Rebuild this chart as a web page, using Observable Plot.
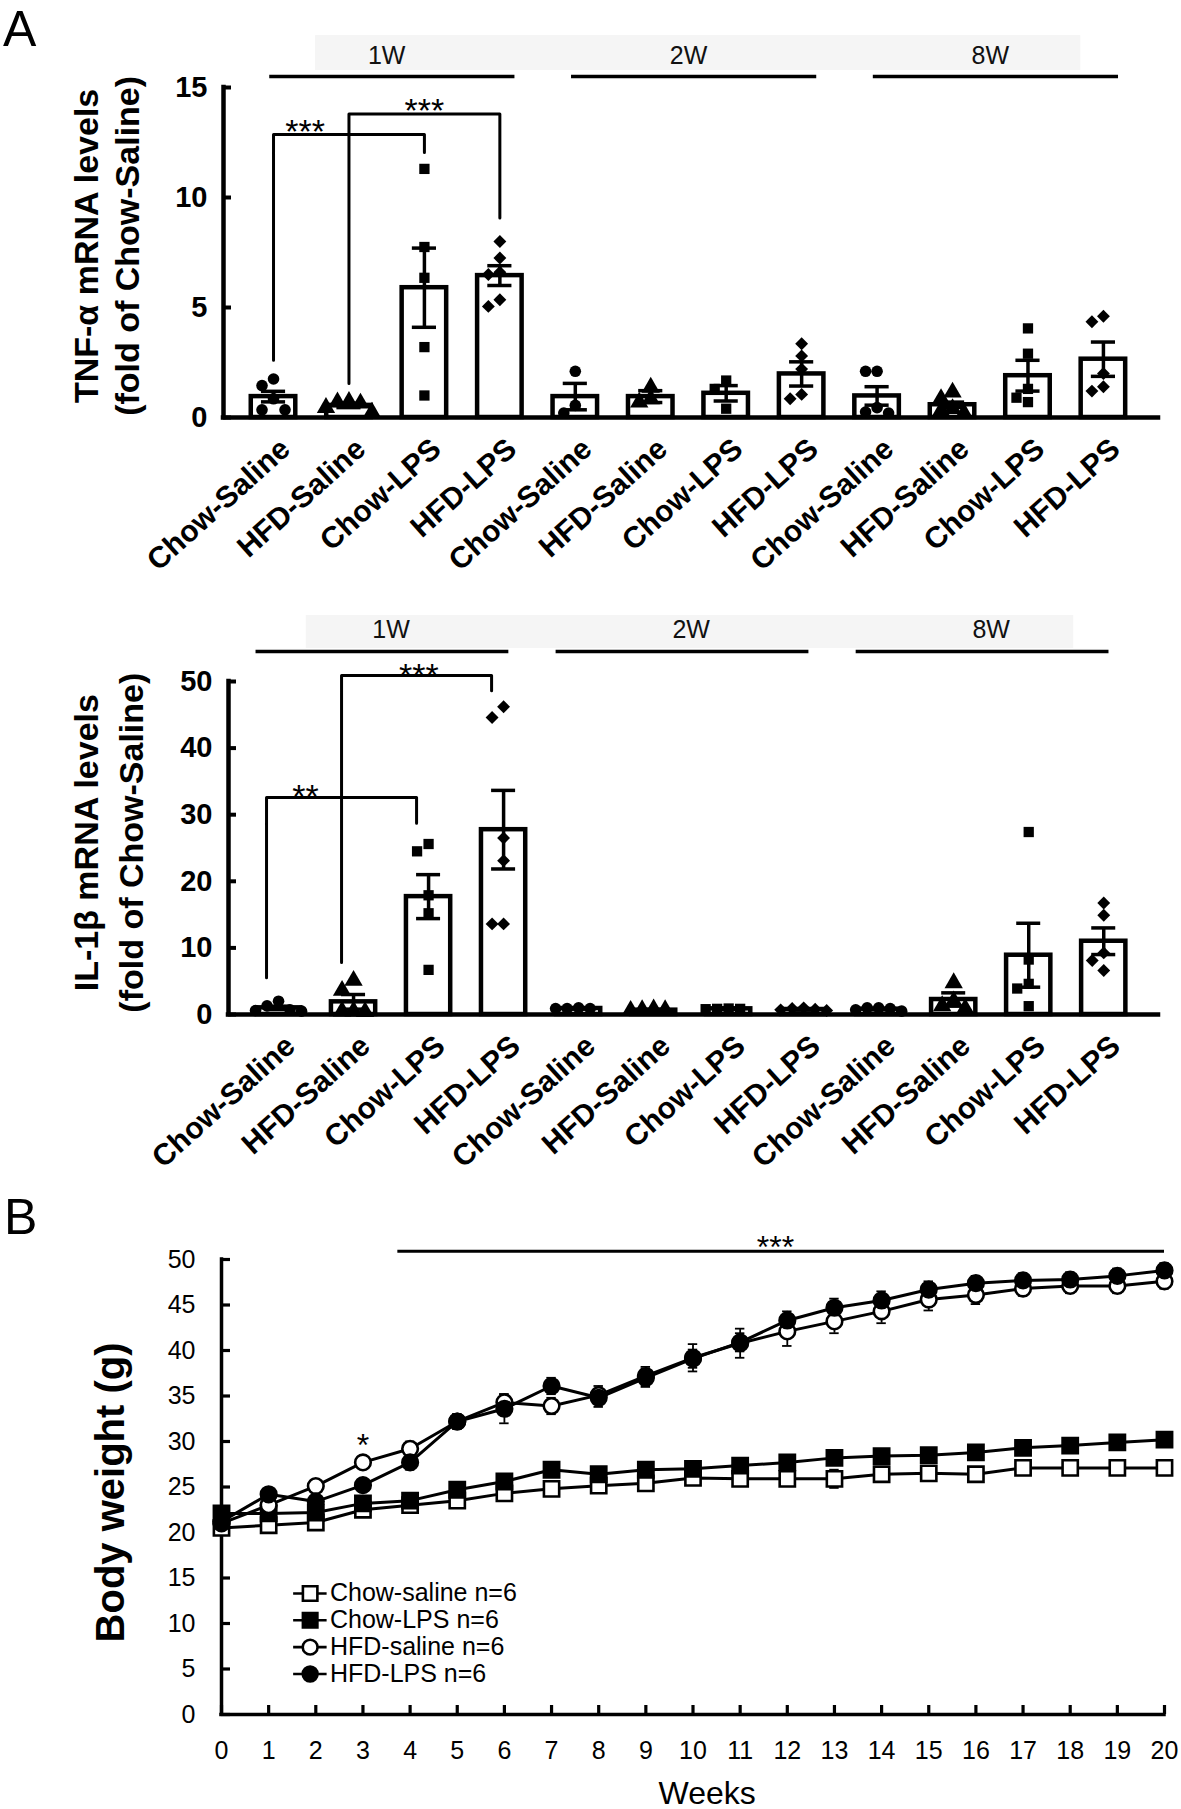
<!DOCTYPE html>
<html><head><meta charset="utf-8">
<script src="https://cdn.jsdelivr.net/npm/d3@7"></script>
<script src="https://cdn.jsdelivr.net/npm/@observablehq/plot@0.6"></script>
<style>
html,body{margin:0;background:#fff;}
#fig{position:relative;width:1181px;height:1809px;overflow:hidden;font-family:"Liberation Sans",Arial,sans-serif;background:#fff;}
.panel{position:absolute;left:0;}
.lab{position:absolute;font-size:50px;line-height:1.1;font-family:"Liberation Sans",Arial,sans-serif;}
</style></head><body>
<div id="fig">
  <div class="lab" style="left:3px;top:2px">A</div>
  <div class="lab" style="left:4px;top:1190px">B</div>
</div>
<script>
// ---------------- DATA ----------------
const groupNames = ["Chow-Saline", "HFD-Saline", "Chow-LPS", "HFD-LPS"];
const timePoints = ["1W", "2W", "8W"];
const categories = timePoints.flatMap(() => groupNames);
const groupSymbols = ["circle", "triangle", "square", "diamond2"];

// TNF-alpha (fold of Chow-Saline)
const tnfMean = [0.95, 0.55, 5.9, 6.45, 0.95, 0.95, 1.1, 1.98, 0.98, 0.58, 1.9, 2.65];
const tnfSem  = [0.24, 0.10, 1.8, 0.45, 0.6, 0.27, 0.35, 0.55, 0.42, 0.12, 0.7, 0.78];
const tnfPoints = [
  [1.75, 1.45, 0.85, 0.35, 0.35],
  [0.7, 0.72, 0.65, 0.45, 0.23],
  [11.3, 7.75, 6.35, 3.2, 1.0],
  [8.0, 7.25, 6.6, 6.5, 5.05, 5.35],
  [2.1, 0.55, 0.2],
  [1.37, 0.84, 0.69],
  [1.68, 1.3, 0.4],
  [3.35, 2.8, 2.2, 1.05, 0.85],
  [2.1, 2.1, 0.45, 0.2, 0.25],
  [1.15, 0.85, 0.4, 0.3, 0.2],
  [4.05, 2.9, 1.3, 0.9, 0.7],
  [4.6, 4.35, 2.0, 1.4, 1.2]
];
const tnfTicks = [0, 5, 10, 15];
const tnfBrackets = [
  {from: 0, to: 2, yFrom: 2.6, yTop: 12.86, yTo: 12.05, labelX: 0.42, label: "***"},
  {from: 1, to: 3, yFrom: 1.55, yTop: 13.8, yTo: 9.07, labelX: 2.0, label: "***"}
];

// IL-1beta (fold of Chow-Saline)
const ilMean = [1.0, 1.9, 17.7, 27.75, 0.9, 0.65, 0.85, 0.75, 0.8, 2.25, 8.9, 11.0];
const ilSem  = [0.25, 1.1, 3.3, 5.9, 0.1, 0.1, 0.1, 0.1, 0.1, 1.0, 4.8, 2.0];
const ilPoints = [
  [2.0, 1.3, 0.7, 0.6, 0.5],
  [5.1, 3.6, 0.5, 0.4, 0.5],
  [25.6, 24.5, 17.9, 15.2, 6.7],
  [46.2, 44.6, 26.5, 23.1, 13.6, 13.6],
  [1.0, 0.9, 0.9, 0.9],
  [0.8, 0.7, 0.7, 0.6],
  [0.9, 0.85, 0.8, 0.85],
  [1.0, 0.9, 0.8, 0.7, 0.6],
  [1.0, 1.0, 0.9, 0.7, 0.5],
  [4.75, 2.0, 1.3, 0.9],
  [27.4, 8.25, 4.6, 3.9, 1.25],
  [16.75, 14.9, 9.25, 8.1, 6.6]
];
const ilTicks = [0, 10, 20, 30, 40, 50];
const ilBrackets = [
  {from: 0, to: 2, yFrom: 5.5, yTop: 32.6, yTo: 28.7, labelX: 0.36, label: "**"},
  {from: 1, to: 3, yFrom: 7.8, yTop: 50.9, yTo: 48.6, labelX: 1.87, label: "***"}
];

// Body weight (g)
const weeks = d3.range(0, 21);
const seriesNames = ["Chow-saline", "Chow-LPS", "HFD-saline", "HFD-LPS"];
const chowSaline = [20.5, 20.8, 21.1, 22.5, 23.0, 23.5, 24.3, 24.8, 25.15, 25.4, 26.0, 25.9, 25.9, 25.9, 26.4, 26.5, 26.4, 27.1, 27.1, 27.1, 27.1];
const chowLPS    = [22.1, 22.1, 22.2, 23.2, 23.5, 24.7, 25.6, 26.9, 26.4, 26.9, 27.0, 27.35, 27.7, 28.2, 28.4, 28.5, 28.8, 29.3, 29.55, 29.9, 30.2];
const hfdSaline  = [21.0, 23.0, 25.1, 27.7, 29.2, 32.2, 34.3, 33.9, 35.1, 37.2, 39.2, 40.8, 42.1, 43.2, 44.3, 45.6, 46.1, 46.8, 47.1, 47.1, 47.6];
const hfdLPS     = [21.2, 24.2, 23.4, 25.2, 27.7, 32.2, 33.6, 36.1, 34.8, 37.0, 39.1, 40.9, 43.3, 44.7, 45.5, 46.7, 47.4, 47.7, 47.8, 48.2, 48.8];
const chowSalineSem = [0.4, 0.4, 0.4, 0.4, 0.4, 0.4, 0.5, 0.5, 0.6, 0.5, 0.5, 0.5, 0.5, 1.0, 0.5, 0.5, 0.5, 0.5, 0.5, 0.5, 0.8];
const chowLPSSem    = [0.4, 0.4, 0.4, 0.4, 0.4, 0.4, 0.5, 0.5, 0.5, 0.5, 0.5, 0.5, 0.5, 0.5, 0.5, 0.5, 0.5, 0.5, 0.5, 0.5, 0.5];
const hfdSalineSem  = [0.5, 0.6, 0.7, 0.7, 0.8, 0.8, 0.9, 0.9, 1.0, 1.0, 1.5, 1.6, 1.6, 1.3, 1.3, 1.2, 1.0, 0.8, 0.8, 0.8, 0.8];
const hfdLPSSem     = [0.5, 0.6, 0.7, 0.7, 0.8, 0.8, 1.6, 0.9, 1.0, 1.0, 1.0, 1.0, 1.0, 1.0, 1.0, 0.9, 0.8, 0.8, 0.8, 0.8, 0.8];
const bwTicks = d3.range(0, 51, 5);
const legendLabels = ["Chow-saline n=6", "Chow-LPS n=6", "HFD-saline n=6", "HFD-LPS n=6"];
const sigBar = {from: 3.74, to: 20, y: 50.9, labelX: 11.75, label: "***"};
const sigWeek = {week: 3, y: 30.3, label: "*"};

// ---------------- HELPERS ----------------
const FONT = "'Liberation Sans', Arial, sans-serif";
const fig = document.getElementById("fig");
function place(svg, top) {
  const d = document.createElement("div");
  d.className = "panel"; d.style.top = top + "px";
  d.appendChild(svg); fig.appendChild(d);
}
function dodgeOffsets(vals, pxPerUnit, box) {
  const order = vals.map((v, j) => j).sort((a, b) => vals[b] - vals[a]);
  const placed = [], offs = [];
  const cands = [0, -1, 1, -2, 2, -3, 3].map(k => k * box);
  for (const j of order) {
    const y = vals[j] * pxPerUnit;
    let chosen = cands[cands.length - 1];
    for (const c of cands) {
      if (placed.every(p => Math.abs(p.x - c) >= box || Math.abs(p.y - y) >= box)) { chosen = c; break; }
    }
    placed.push({x: chosen, y}); offs[j] = chosen;
  }
  return offs;
}

function barPanel(cfg) {
  const {mean, sem, points, ticks, yMax, brackets, titles, L, S} = cfg;
  const pxPerUnit = (L.height - L.marginTop - L.marginBottom) / yMax;
  const pitch = (L.width - L.marginLeft - L.marginRight) / (L.xMax - L.xMin);
  const rows = categories.map((c, i) => ({i, c, mean: mean[i], sem: sem[i]}));
  const pts = [];
  points.forEach((vals, i) => {
    const offs = dodgeOffsets(vals, pxPerUnit, 11.5);
    vals.forEach((v, j) => pts.push({x: i + offs[j] / pitch, y: v, g: i % 4}));
  });
  const caps = rows.flatMap(r => [{i: r.i, y: r.mean + r.sem}, {i: r.i, y: Math.max(0, r.mean - r.sem)}]);
  const bracketPts = brackets.flatMap((b, k) => [
    {k, x: b.from + S.bracketShift, y: b.yFrom},
    {k, x: b.from + S.bracketShift, y: b.yTop},
    {k, x: b.to + S.bracketShift, y: b.yTop},
    {k, x: b.to + S.bracketShift, y: b.yTo}
  ]);
  const symR = {circle: 5.8, triangle: 6.8, square: 5.8, diamond2: 5.8};
  return Plot.plot({
    width: L.width, height: L.height,
    marginLeft: L.marginLeft, marginRight: L.marginRight, marginTop: L.marginTop, marginBottom: L.marginBottom,
    x: {domain: [L.xMin, L.xMax], axis: null},
    y: {domain: [0, yMax], axis: null},
    style: {fontFamily: FONT, background: "transparent", overflow: "visible"},
    marks: [
      // group header band
      Plot.rect([0], {x1: () => S.bandX1, x2: () => S.bandX2, y1: () => S.bandY1, y2: () => S.bandY2, fill: "#f5f5f5"}),
      Plot.text(timePoints, {x: (d, i) => i * 4 + 1.5, y: () => S.bandText, text: d => d, fontSize: 25, fill: "#111"}),
      Plot.ruleY(timePoints, {x1: (d, i) => i * 4 + S.lineStart, x2: (d, i) => i * 4 + 3 + S.lineEnd, y: () => S.lineY, strokeWidth: 3.5}),
      // bars
      Plot.rect(rows, {x1: d => d.i - 0.295, x2: d => d.i + 0.295, y1: () => 0, y2: "mean", fill: "white", stroke: "black", strokeWidth: 4.5}),
      // points
      ...groupSymbols.map((s, g) => Plot.dot(pts.filter(p => p.g === g), {x: "x", y: "y", symbol: s, r: symR[s], fill: "black", stroke: "none"})),
      // error bars
      Plot.ruleX(rows, {x: "i", y1: d => Math.max(0, d.mean - d.sem), y2: d => d.mean + d.sem, strokeWidth: 3.5}),
      Plot.ruleY(caps, {x1: d => d.i - 0.16, x2: d => d.i + 0.16, y: "y", strokeWidth: 3.5}),
      // axes
      Plot.ruleY(ticks, {x1: () => L.xMin, x2: () => L.xMin + 8 / pitch, y: d => d, strokeWidth: 4}),
      Plot.ruleX([L.xMin], {y1: () => 0, y2: () => yMax, strokeWidth: 4.5, strokeLinecap: "square"}),
      Plot.ruleY([0], {x1: () => L.xMin, x2: () => L.xMax, strokeWidth: 4.5, strokeLinecap: "square"}),
      Plot.text(ticks, {x: () => L.xMin, y: d => d, text: d => String(d), dx: -16, textAnchor: "end", fontSize: 29, fontWeight: "bold"}),
      Plot.text(categories, {x: (d, i) => i, y: () => 0, text: d => d, rotate: -42, textAnchor: "end", dx: S.labDx, dy: S.labDy, fontSize: 30, fontWeight: "bold"}),
      // significance brackets
      Plot.line(bracketPts, {x: "x", y: "y", z: "k", strokeWidth: 3, curve: "linear"}),
      Plot.text(brackets, {x: "labelX", y: "yTop", text: "label", lineAnchor: "bottom", dy: S.starDy, fontSize: 34}),
      // y titles
      Plot.text([titles[0]], {x: () => L.xMin, y: () => S.titleY, text: d => d, rotate: -90, dx: S.title1Dx, fontSize: 34, fontWeight: "bold"}),
      Plot.text([titles[1]], {x: () => L.xMin, y: () => S.titleY, text: d => d, rotate: -90, dx: S.title2Dx, fontSize: 34, fontWeight: "bold"})
    ]
  });
}

// ---------------- PANEL A (TNF) ----------------
place(barPanel({
  mean: tnfMean, sem: tnfSem, points: tnfPoints, ticks: tnfTicks, yMax: 15, brackets: tnfBrackets,
  titles: ["TNF-α mRNA levels", "(fold of Chow-Saline)"],
  L: {width: 1181, height: 590, marginLeft: 223, marginRight: 23, marginTop: 87, marginBottom: 173, xMin: -0.663, xMax: 11.73},
  S: {bandX1: 0.557, bandX2: 10.7, bandY1: 15.77, bandY2: 17.36, bandText: 16.45, lineY: 15.5, lineStart: -0.05, lineEnd: 0.2,
      bracketShift: 0, starDy: 8, labDx: 12, labDy: 27, titleY: 7.8, title1Dx: -136, title2Dx: -95}
}), 0);

// ---------------- PANEL A (IL-1b) ----------------
place(barPanel({
  mean: ilMean, sem: ilSem, points: ilPoints, ticks: ilTicks, yMax: 50, brackets: ilBrackets,
  titles: ["IL-1β mRNA levels", "(fold of Chow-Saline)"],
  L: {width: 1181, height: 610, marginLeft: 228, marginRight: 23, marginTop: 91, marginBottom: 186, xMin: -0.667, xMax: 11.73},
  S: {bandX1: 0.37, bandX2: 10.6, bandY1: 54.95, bandY2: 59.9, bandText: 57.66, lineY: 54.5, lineStart: -0.3, lineEnd: 0.07,
      bracketShift: -0.16, starDy: 11, labDx: 12, labDy: 27, titleY: 25.8, title1Dx: -141, title2Dx: -96}
}), 590);

// ---------------- PANEL B (body weight) ----------------
const seriesValues = [chowSaline, chowLPS, hfdSaline, hfdLPS];
const seriesSem = [chowSalineSem, chowLPSSem, hfdSalineSem, hfdLPSSem];
const seriesSymbol = ["square", "square", "circle", "circle"];
const seriesFill = ["white", "black", "white", "black"];
const bw = seriesNames.flatMap((s, k) => weeks.map((w, i) => ({s, k, week: w, v: seriesValues[k][i], sem: seriesSem[k][i]})));
const BL = {width: 1181, height: 609, marginLeft: 221, marginRight: 17, marginTop: 59, marginBottom: 95};
const pxPerWeek = (BL.width - BL.marginLeft - BL.marginRight) / 20;
const pxPerGram = (BL.height - BL.marginTop - BL.marginBottom) / 50;
const symRB = {square: 8.6, circle: 7.8};
const legendRows = legendLabels.map((t, k) => ({t, k, y: 13.3 - k * 2.95}));

place(Plot.plot({
  ...BL,
  x: {domain: [0, 20], axis: null},
  y: {domain: [0, 50], axis: null},
  style: {fontFamily: FONT, background: "transparent", overflow: "visible"},
  marks: [
    // axes
    Plot.ruleX([0], {y1: () => 0, y2: () => 50, strokeWidth: 3.5, strokeLinecap: "square"}),
    Plot.ruleY([0], {x1: () => 0, x2: () => 20, strokeWidth: 3.5, strokeLinecap: "square"}),
    Plot.ruleY(bwTicks, {x1: () => 0, x2: () => 9 / pxPerWeek, y: d => d, strokeWidth: 3.2}),
    Plot.ruleX(weeks, {x: d => d, y1: () => 0, y2: () => 9 / pxPerGram, strokeWidth: 3.2}),
    Plot.text(bwTicks, {x: () => 0, y: d => d, text: d => String(d), dx: -26, textAnchor: "end", fontSize: 25}),
    Plot.text(weeks, {x: d => d, y: () => 0, text: d => String(d), dy: 36, fontSize: 25}),
    Plot.text(["Weeks"], {x: () => 10.3, y: () => 0, text: d => d, lineAnchor: "bottom", dy: 89, fontSize: 32}),
    Plot.text(["Body weight (g)"], {x: () => 0, y: () => 24.4, text: d => d, rotate: -90, dx: -110, fontSize: 40, fontWeight: "bold"}),
    // significance
    Plot.ruleY([sigBar], {x1: "from", x2: "to", y: "y", strokeWidth: 3}),
    Plot.text([sigBar], {x: "labelX", y: "y", text: "label", lineAnchor: "bottom", dy: 7, fontSize: 32}),
    Plot.text([sigWeek], {x: "week", y: "y", text: "label", lineAnchor: "bottom", dy: 17, fontSize: 32}),
    // error bars
    Plot.ruleX(bw, {x: "week", y1: d => d.v - d.sem, y2: d => d.v + d.sem, strokeWidth: 1.8}),
    Plot.ruleY(bw.flatMap(d => [{week: d.week, y: d.v - d.sem}, {week: d.week, y: d.v + d.sem}]), {x1: d => d.week - 0.1, x2: d => d.week + 0.1, y: "y", strokeWidth: 1.8}),
    // lines
    Plot.line(bw, {x: "week", y: "v", z: "s", stroke: "black", strokeWidth: 3}),
    // markers
    ...seriesNames.map((s, k) => Plot.dot(bw.filter(d => d.k === k), {x: "week", y: "v", symbol: seriesSymbol[k], r: symRB[seriesSymbol[k]], fill: seriesFill[k], stroke: "black", strokeWidth: 2.6})),
    // legend
    Plot.ruleY(legendRows, {x1: () => 1.53, x2: () => 2.24, y: "y", strokeWidth: 2.6}),
    ...legendRows.map(r => Plot.dot([r], {x: () => 1.88, y: "y", symbol: seriesSymbol[r.k], r: symRB[seriesSymbol[r.k]] * 0.95, fill: seriesFill[r.k], stroke: "black", strokeWidth: 2.6})),
    Plot.text(legendRows, {x: () => 2.3, y: "y", text: "t", textAnchor: "start", fontSize: 25})
  ]
}), 1200);
</script>
</body></html>
